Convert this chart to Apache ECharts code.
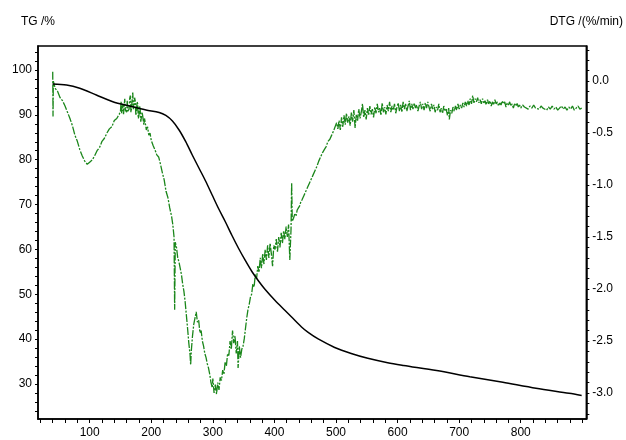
<!DOCTYPE html>
<html>
<head>
<meta charset="utf-8">
<script src="https://cdn.jsdelivr.net/npm/echarts@6/dist/echarts.min.js"></script>
<style>html,body{margin:0;padding:0;background:#fff}#c{width:626px;height:440px}</style>
</head>
<body>
<div id="c"></div>
<script>
// Temperature (°C) tick labels
const tempLabels = [100, 200, 300, 400, 500, 600, 700, 800];
const tgLabels = [30, 40, 50, 60, 70, 80, 90, 100];
const dtgLabels = [-3.0, -2.5, -2.0, -1.5, -1.0, -0.5, 0.0];

// TG curve [T, %]
const tg = [
  [39.8,96.88],[62.4,96.66],[83.9,95.92],[110.8,94.43],[137.6,92.93],[164.5,91.97],[191.5,91.08],
  [212.9,90.53],[223.7,89.86],[234.4,88.63],[245.2,86.63],[256.0,84.02],[266.6,81.05],[277.4,78.15],
  [288.2,75.26],[298.9,72.14],[309.7,69.01],[320.5,66.12],[331.1,63.11],[341.9,60.21],[352.7,57.54],
  [363.4,55.08],[374.2,52.97],[385.0,51.07],[401.1,48.62],[417.3,46.40],[427.9,44.94],[444.0,42.71],
  [454.8,41.50],[471.0,40.04],[497.9,38.15],[524.7,36.80],[551.6,35.73],[583.9,34.75],[609.7,34.15],
  [663.4,33.01],[717.3,31.63],[771.0,30.38],[824.7,29.05],[878.5,27.93],[898.9,27.45]
];

// DTG curve [T, %/min]
const dtg = [
  [40,0.09],[40.5,-0.34],[41,0.0],[44,-0.07],[48,-0.10],[52,-0.16],[56,-0.19],[60,-0.24],
  [64,-0.30],[68,-0.36],[72,-0.43],[76,-0.52],[80,-0.58],[84,-0.66],[88,-0.72],[92,-0.77],
  [96,-0.80],[100,-0.78],[104,-0.76],[108,-0.72],[112,-0.67],[116,-0.64],[120,-0.58],[124,-0.55],
  [128,-0.50],[132,-0.46],[136,-0.44],[140,-0.38],[144,-0.36],[148,-0.32],[150,-0.29],[151,-0.20],
  [152,-0.31],[154,-0.22],[155,-0.32],[156,-0.24],[157,-0.17],[158,-0.28],[160,-0.30],[161,-0.19],
  [162,-0.29],[164,-0.27],[165,-0.17],[166,-0.14],[167,-0.30],[168,-0.26],[169,-0.18],[170,-0.11],
  [171,-0.27],[172,-0.24],[173,-0.16],[174,-0.19],[175,-0.33],[176,-0.29],[177,-0.20],[178,-0.22],
  [179,-0.36],[180,-0.33],[181,-0.24],[182,-0.27],[183,-0.39],[184,-0.38],[185,-0.30],[186,-0.33],
  [188,-0.42],[189,-0.36],[190,-0.39],[192,-0.47],[194,-0.44],[196,-0.52],[198,-0.50],[200,-0.57],
  [203,-0.62],[206,-0.66],[209,-0.71],[212,-0.73],[215,-0.80],[218,-0.88],[221,-0.95],[224,-1.06],
  [227,-1.12],[230,-1.22],[233,-1.30],[235,-1.38],[237,-1.50],[238,-2.20],[239,-1.55],[241,-1.60],
  [243,-1.70],[245,-1.74],[247,-1.80],[249,-1.86],[251,-1.95],[253,-2.02],[255,-2.12],[257,-2.25],
  [259,-2.38],[261,-2.52],[263,-2.63],[264,-2.73],[265,-2.60],[267,-2.45],[269,-2.34],[271,-2.28],
  [273,-2.22],[275,-2.32],[277,-2.30],[279,-2.42],[281,-2.40],[283,-2.50],[285,-2.55],[287,-2.62],
  [289,-2.66],[291,-2.72],[293,-2.76],[295,-2.82],[297,-2.90],[299,-2.95],[300,-2.86],[302,-3.00],
  [304,-2.92],[306,-3.01],[308,-2.90],[310,-2.97],[312,-2.85],[314,-2.88],[316,-2.78],[318,-2.82],
  [320,-2.70],[322,-2.74],[324,-2.62],[326,-2.64],[328,-2.50],[330,-2.58],[332,-2.40],[334,-2.52],
  [336,-2.45],[338,-2.62],[340,-2.50],[341,-2.76],[343,-2.55],[345,-2.66],[347,-2.58],[349,-2.55],
  [351,-2.48],[353,-2.38],[355,-2.28],[357,-2.20],[359,-2.15],[361,-2.08],[363,-2.05],[365,-1.95],
  [367,-1.98],[369,-1.86],[371,-1.90],[373,-1.78],[375,-1.84],[377,-1.70],[379,-1.80],[381,-1.66],
  [383,-1.76],[385,-1.62],[387,-1.72],[389,-1.58],[391,-1.70],[393,-1.56],[395,-1.66],[397,-1.78],
  [399,-1.58],[401,-1.62],[403,-1.52],[405,-1.64],[407,-1.50],[409,-1.60],[411,-1.46],[413,-1.56],
  [415,-1.44],[417,-1.52],[419,-1.40],[421,-1.50],[423,-1.38],[425,-1.72],[427,-1.42],[428,-0.98],
  [429,-1.35],[431,-1.32],[433,-1.28],[435,-1.30],[437,-1.24],[439,-1.22],[441,-1.20],[443,-1.16],
  [445,-1.14],[448,-1.10],[451,-1.06],[454,-1.02],[457,-0.98],[460,-0.94],[463,-0.90],[466,-0.86],
  [469,-0.82],[472,-0.77],[475,-0.73],[478,-0.69],[481,-0.66],[484,-0.63],[487,-0.58],[490,-0.56],
  [493,-0.52],[496,-0.48],[499,-0.49],[501,-0.40],[503,-0.46],[505,-0.38],[507,-0.47],[509,-0.35],
  [511,-0.44],[513,-0.33],[515,-0.42],[517,-0.31],[519,-0.40],[521,-0.34],[523,-0.43],[525,-0.30],
  [527,-0.39],[529,-0.28],[531,-0.45],[533,-0.32],[535,-0.38],[537,-0.27],[539,-0.36],[541,-0.30],
  [543,-0.22],[545,-0.35],[547,-0.28],[549,-0.37],[551,-0.26],[553,-0.33],[555,-0.24],[557,-0.32],
  [559,-0.27],[561,-0.35],[563,-0.25],[565,-0.31],[567,-0.22],[569,-0.30],[571,-0.26],[573,-0.33],
  [575,-0.21],[577,-0.30],[579,-0.25],[581,-0.32],[583,-0.23],[585,-0.29],[587,-0.20],[589,-0.30],
  [591,-0.24],[593,-0.28],[595,-0.22],[597,-0.31],[599,-0.25],[601,-0.21],[603,-0.29],[605,-0.23],
  [607,-0.30],[609,-0.20],[611,-0.27],[613,-0.22],[615,-0.29],[617,-0.24],[619,-0.19],[621,-0.28],
  [623,-0.22],[625,-0.27],[627,-0.21],[629,-0.26],[631,-0.23],[633,-0.29],[635,-0.24],[637,-0.20],
  [639,-0.27],[641,-0.22],[643,-0.28],[645,-0.21],[647,-0.26],[649,-0.20],[651,-0.25],[653,-0.29],
  [655,-0.22],[657,-0.27],[659,-0.23],[661,-0.30],[663,-0.25],[665,-0.28],[667,-0.22],[669,-0.30],
  [671,-0.26],[673,-0.31],[675,-0.24],[677,-0.29],[679,-0.27],[681,-0.33],[683,-0.26],[684,-0.37],
  [686,-0.28],[688,-0.31],[690,-0.25],[692,-0.29],[694,-0.24],[696,-0.28],[698,-0.22],[700,-0.27],
  [702,-0.23],[704,-0.26],[706,-0.21],[708,-0.25],[710,-0.20],[712,-0.24],[714,-0.19],[716,-0.23],
  [718,-0.17],[720,-0.22],[722,-0.14],[724,-0.21],[726,-0.17],[728,-0.20],[730,-0.16],[732,-0.21],
  [734,-0.18],[736,-0.22],[738,-0.17],[740,-0.21],[742,-0.19],[744,-0.23],[746,-0.18],[748,-0.22],
  [750,-0.19],[752,-0.24],[754,-0.20],[756,-0.23],[758,-0.18],[760,-0.22],[762,-0.20],[764,-0.24],
  [766,-0.21],[768,-0.23],[770,-0.19],[772,-0.22],[774,-0.20],[776,-0.25],[778,-0.21],[780,-0.23],
  [782,-0.20],[784,-0.24],[786,-0.22],[788,-0.26],[790,-0.22],[792,-0.24],[794,-0.21],[796,-0.25],
  [798,-0.23],[800,-0.26],[803,-0.23],[806,-0.25],[809,-0.24],[812,-0.27],[815,-0.24],[818,-0.26],
  [821,-0.23],[824,-0.26],[827,-0.25],[830,-0.27],[833,-0.24],[836,-0.26],[839,-0.25],[842,-0.28],
  [845,-0.25],[848,-0.27],[851,-0.24],[854,-0.27],[857,-0.25],[860,-0.28],[863,-0.26],[866,-0.24],
  [869,-0.27],[872,-0.25],[875,-0.28],[878,-0.25],[881,-0.27],[884,-0.24],[887,-0.28],[890,-0.26],
  [893,-0.24],[896,-0.27],[899,-0.26]
];

function range(a, b, step) {
  const out = [];
  const n = Math.round((b - a) / step);
  for (let i = 0; i <= n; i++) out.push(+(a + i * step).toFixed(4));
  return out;
}

const font = 'Liberation Sans, Arial, sans-serif';
const chart = echarts.init(document.getElementById('c'), null, { renderer: 'canvas' });
chart.setOption({
  animation: false,
  backgroundColor: '#fff',
  grid: { left: 38, right: 36, top: 46, bottom: 21, show: true, borderColor: '#000', borderWidth: 1.5, backgroundColor: 'transparent' },
  xAxis: {
    type: 'value', min: 16.1, max: 906.5,
    axisLine: { show: true, onZero: false, lineStyle: { color: '#000', width: 1.5 } },
    axisTick: { show: true, inside: false, length: 4, customValues: range(20, 900, 20), lineStyle: { color: '#000' } },
    axisLabel: { customValues: tempLabels, color: '#000', fontFamily: font, fontSize: 12, margin: 8 },
    splitLine: { show: false }
  },
  yAxis: [
    {
      type: 'value', min: 22.2, max: 105.35, position: 'left',
      name: 'TG /%', nameLocation: 'end', nameGap: 24,
      nameTextStyle: { color: '#000', fontFamily: font, fontSize: 12, verticalAlign: 'middle', align: 'center' },
      axisLine: { show: true, onZero: false, lineStyle: { color: '#000', width: 1.5 } },
      axisTick: { show: true, length: 3, customValues: range(24, 104, 2), lineStyle: { color: '#000' } },
      axisLabel: { customValues: tgLabels, color: '#000', fontFamily: font, fontSize: 12, margin: 6 },
      splitLine: { show: false }
    },
    {
      type: 'value', min: -3.25, max: 0.337, position: 'right',
      name: 'DTG /(%/min)', nameLocation: 'end', nameGap: 24,
      nameTextStyle: { color: '#000', fontFamily: font, fontSize: 12, verticalAlign: 'middle', align: 'center' },
      axisLine: { show: true, onZero: false, lineStyle: { color: '#000', width: 1.5 } },
      axisTick: { show: true, length: 3, customValues: range(-3.2, 0.3, 0.1), lineStyle: { color: '#000' } },
      axisLabel: { customValues: dtgLabels, color: '#000', fontFamily: font, fontSize: 12, margin: 6,
        formatter: v => v.toFixed(1) },
      splitLine: { show: false }
    }
  ],
  series: [
    {
      type: 'line', yAxisIndex: 1, data: dtg, showSymbol: false, symbol: 'none',
      lineStyle: { color: '#1a861a', width: 1.3, type: [8, 1.5, 2, 1.5] }, z: 2
    },
    {
      type: 'line', yAxisIndex: 0, data: tg, showSymbol: false, symbol: 'none',
      smooth: 0.3,
      lineStyle: { color: '#000', width: 1.5 }, z: 3
    }
  ]
});
</script>
</body>
</html>
